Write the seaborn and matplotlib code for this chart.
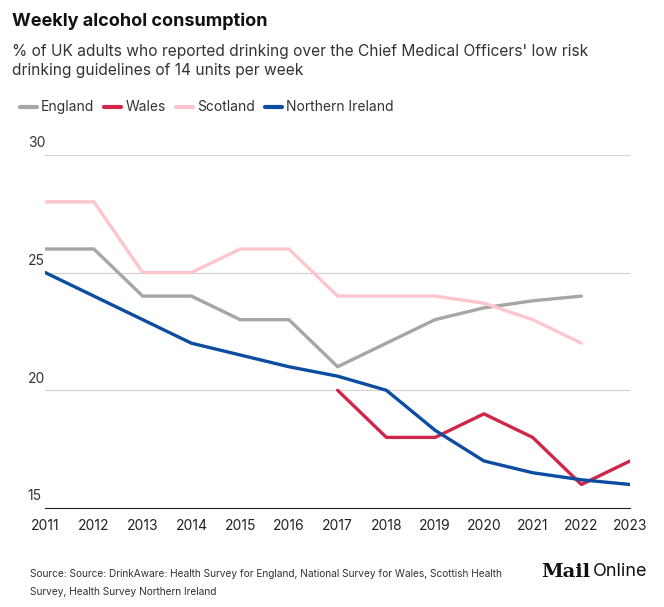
import pandas as pd
import seaborn as sns
import matplotlib.pyplot as plt
import matplotlib.transforms as mtransforms

years = list(range(2011, 2024))
england = [26, 26, 24, 24, 23, 23, 21, 22, 23, 23.5, 23.8, 24]
scotland = [28, 28, 25, 25, 26, 26, 24, 24, 24, 23.7, 23, 22]
wales_years = [2017, 2018, 2019, 2020, 2021, 2022, 2023]
wales = [20, 18, 18, 19, 18, 16, 17]
ni = [25, 24, 23, 22, 21.5, 21, 20.6, 20, 18.3, 17, 16.5, 16.2, 16]

df = pd.concat([
    pd.DataFrame({"year": years[:12], "value": england, "nation": "England"}),
    pd.DataFrame({"year": wales_years, "value": wales, "nation": "Wales"}),
    pd.DataFrame({"year": years[:12], "value": scotland, "nation": "Scotland"}),
    pd.DataFrame({"year": years, "value": ni, "nation": "Northern Ireland"}),
])
colors = {"England": "#a6a6a6", "Wales": "#d0264a", "Scotland": "#fcc6cc",
          "Northern Ireland": "#0c4da2"}

sns.set_style("white")
plt.rcParams["font.family"] = ["Inter", "DejaVu Sans"]

fig = plt.figure(figsize=(6.64, 6.07), dpi=100)
ax = fig.add_axes([0.068, 0.163, 0.881, 0.582])
sns.lineplot(data=df, x="year", y="value", hue="nation", palette=colors,
             linewidth=2.4, ax=ax, legend=False)

ax.set_xlim(2011, 2023)
ax.set_ylim(15, 30)
ax.set_xticks(years)
ax.set_xticklabels([str(y) for y in years], fontsize=10, color="#222")
ax.set_yticks([15, 20, 25, 30])
ax.set_yticklabels([])
ax.tick_params(axis="y", length=0)
ax.tick_params(axis="x", length=5, color="#222", pad=3)
ax.grid(axis="y", color="#d0d0d0", linewidth=0.8)
ax.set_xlabel("")
ax.set_ylabel("")
for s in ["top", "right", "left"]:
    ax.spines[s].set_visible(False)
ax.spines["bottom"].set_color("#222")

trans = mtransforms.blended_transform_factory(ax.transAxes, ax.transData)
for v in [15, 20, 25, 30]:
    ax.text(-0.03, v + 0.2, str(v), transform=trans, fontsize=10,
            color="#333", va="bottom", ha="left")

fig.text(0.018, 0.965, "Weekly alcohol consumption", fontsize=13,
         fontweight="bold", color="#111", va="center")
fig.text(0.018, 0.9, "% of UK adults who reported drinking over the Chief Medical Officers' low risk\ndrinking guidelines of 14 units per week",
         fontsize=11.2, color="#333", va="center", linespacing=1.35)

renderer = fig.canvas.get_renderer()
x = 0.03
for name in ["England", "Wales", "Scotland", "Northern Ireland"]:
    fig.add_artist(plt.Line2D([x, x + 0.025], [0.824, 0.824], color=colors[name],
                              linewidth=3, transform=fig.transFigure))
    t = fig.text(x + 0.032, 0.824, name, fontsize=10, color="#333", va="center")
    w = t.get_window_extent(renderer).width / fig.bbox.width
    x += 0.032 + w + 0.015

fig.text(0.045, 0.062, "Source: Source: DrinkAware: Health Survey for England, National Survey for Wales, Scottish Health\nSurvey, Health Survey Northern Ireland",
         fontsize=7.3, color="#333", va="top", linespacing=1.9)
fig.text(0.815, 0.058, "Mail", fontsize=14, fontweight="bold", family="DejaVu Serif",
         color="#111", va="center")
fig.text(0.893, 0.058, "Online", fontsize=13, color="#111", va="center")

fig.savefig("out.png", dpi=100)
